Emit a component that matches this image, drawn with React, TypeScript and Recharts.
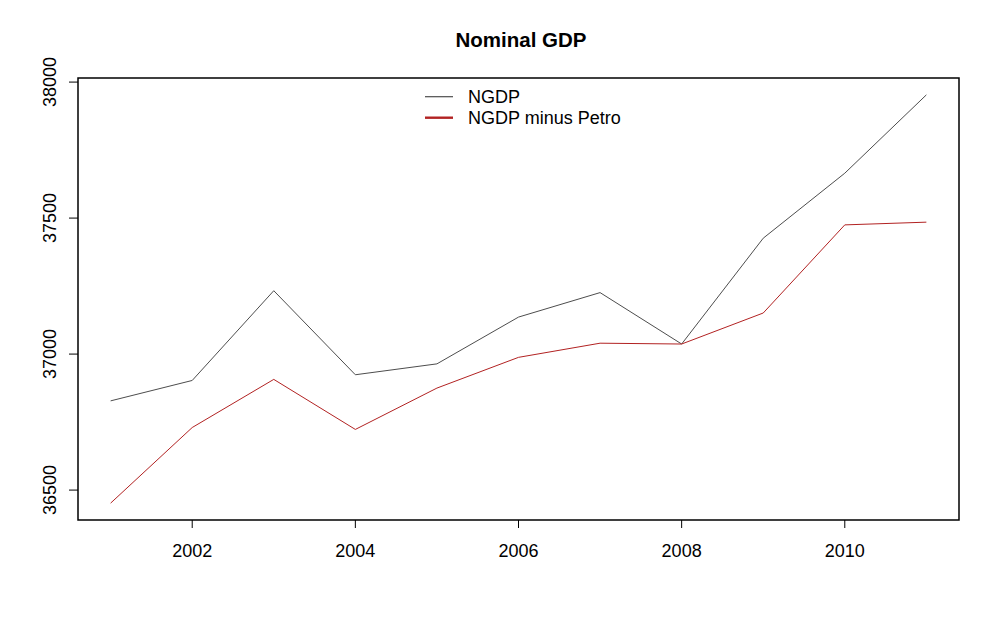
import { LineChart, Line, XAxis, YAxis, ReferenceArea } from "recharts";

const years = [2001, 2002, 2003, 2004, 2005, 2006, 2007, 2008, 2009, 2010, 2011];
const ngdp = [36828, 36903, 37233, 36924, 36964, 37136, 37226, 37037, 37426, 37665, 37953];
const ngdpMinusPetro = [36452, 36730, 36907, 36723, 36875, 36988, 37040, 37037, 37151, 37475, 37485];
const xTicks = [2002, 2004, 2006, 2008, 2010];
const yTicks = [36500, 37000, 37500, 38000];

const data = years.map((y, i) => ({ year: y, ngdp: ngdp[i], petro: ngdpMinusPetro[i] }));

const FONT = "'Liberation Sans', Arial, sans-serif";
const X_DOMAIN: [number, number] = [2000.6, 2011.4];
const Y_DOMAIN: [number, number] = [36390, 38015];

const XTick = ({ x, y, payload }: any) => (
  <text x={x} y={y} dy={26.5} textAnchor="middle" fontSize={18} fontFamily={FONT} fill="#000">
    {payload.value}
  </text>
);

const YTick = ({ x, y, payload }: any) => (
  <text
    x={x - 11}
    y={y}
    textAnchor="middle"
    fontSize={18}
    fontFamily={FONT}
    fill="#000"
    transform={`rotate(-90, ${x - 11}, ${y})`}
  >
    {payload.value}
  </text>
);

const LegendBox = () => (
  <svg
    width={240}
    height={50}
    style={{ position: "absolute", top: 80, left: 420, display: "block" }}
  >
    <line x1={5} x2={33} y1={16.7} y2={16.7} stroke="#4d4d4d" strokeWidth={1.2} />
    <text x={48} y={23.2} fontSize={18} fontFamily={FONT} fill="#000">NGDP</text>
    <line x1={5} x2={33} y1={37.7} y2={37.7} stroke="#b22222" strokeWidth={2.4} />
    <text x={48} y={44.2} fontSize={18} fontFamily={FONT} fill="#000">NGDP minus Petro</text>
  </svg>
);

export default function App() {
  return (
    <div style={{ position: "absolute", left: 0, top: 0, width: 1000, height: 618, background: "#fff" }}>
      <div
        style={{
          position: "absolute",
          top: 30,
          left: 78,
          width: 886,
          textAlign: "center",
          fontFamily: FONT,
          fontWeight: "bold",
          fontSize: 20.5,
          lineHeight: "20px",
          color: "#000",
        }}
      >
        Nominal GDP
      </div>
      <LineChart width={1000} height={618} data={data} margin={{ top: 78, right: 41, left: 0, bottom: 0 }}>
        <XAxis
          dataKey="year"
          type="number"
          domain={X_DOMAIN}
          ticks={xTicks}
          allowDataOverflow
          axisLine={false}
          tickSize={8}
          tickLine={{ stroke: "#000", strokeWidth: 1 }}
          tick={<XTick />}
          height={98}
        />
        <YAxis
          type="number"
          domain={Y_DOMAIN}
          ticks={yTicks}
          allowDataOverflow
          axisLine={false}
          tickSize={9}
          tickLine={{ stroke: "#000", strokeWidth: 1 }}
          tick={<YTick />}
          width={78}
        />
        <ReferenceArea
          x1={X_DOMAIN[0]}
          x2={X_DOMAIN[1]}
          y1={Y_DOMAIN[0]}
          y2={Y_DOMAIN[1]}
          fill="none"
          stroke="#000"
          strokeWidth={1.5}
          ifOverflow="visible"
        />
        <Line
          dataKey="ngdp"
          stroke="#4d4d4d"
          strokeWidth={1}
          dot={false}
          type="linear"
          isAnimationActive={false}
        />
        <Line
          dataKey="petro"
          stroke="#b22222"
          strokeWidth={1}
          dot={false}
          type="linear"
          isAnimationActive={false}
        />
      </LineChart>
      <LegendBox />
    </div>
  );
}
